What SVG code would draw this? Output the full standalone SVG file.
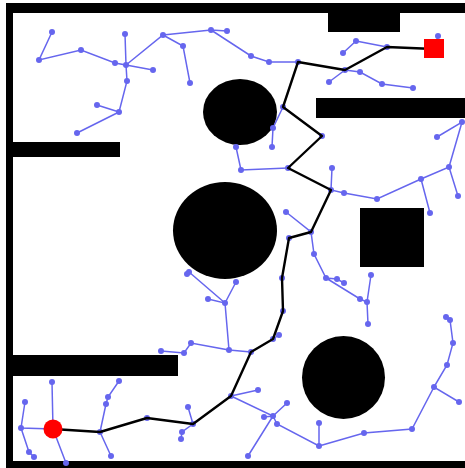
<svg xmlns="http://www.w3.org/2000/svg" width="465" height="468" viewBox="0 0 465 468">
<style>
.obs{fill:#000}
.e{stroke:#6666ee;stroke-width:1.5;fill:none;stroke-linecap:round}
.n{fill:#6666ee}
.path{stroke:#000;stroke-width:2.4;fill:none;stroke-linejoin:round}
</style>
<rect width="465" height="468" fill="#fff"/>
<g id="walls">
<rect class="obs" x="6" y="3" width="459" height="10"/>
<rect class="obs" x="6" y="3" width="7" height="465"/>
<rect class="obs" x="6" y="461" width="459" height="7"/>
</g>
<g id="obstacles">
<rect class="obs" x="328" y="13" width="72" height="19"/>
<rect class="obs" x="316" y="98" width="149" height="20"/>
<rect class="obs" x="13" y="142" width="107" height="15"/>
<rect class="obs" x="13" y="355" width="165" height="21"/>
<rect class="obs" x="360" y="208" width="64" height="59"/>
<ellipse class="obs" cx="240" cy="112" rx="37" ry="33"/>
<ellipse class="obs" cx="225" cy="230.5" rx="52" ry="48.5"/>
<ellipse class="obs" cx="343.5" cy="377.5" rx="41.5" ry="41.5"/>
</g>
<g id="connectors">
<path class="e" d="M52,32L39,60L81,50L115,63L126,65L125,34M126,65L153,70M126,65L127,81L119,112L97,105M119,112L77,133M126,65L163,35L183,46L190,83M163,35L211,30L227,31M211,30L251,56L269,62L298,62M283,107L273,128L272,147M236,147L241,170L288,168M356,41L343,53M356,41L387,47M345,70L360,72L382,84L413,88M345,70L329,82M438,36L434,49M437,137L462,122L449,167M332,168L331,190L344,193L377,199L421,179L449,167L458,196M421,179L430,213M286,212L311,232L314,254L326,278L337,279L344,283M326,278L360,299L367,302L368,324M371,275L367,302M189,272L225,303M187,274L189,272M236,282L225,303M208,299L225,303L229,350L191,343L184,353L161,351M229,350L251,352M279,335L273,339M231,396L258,390M231,396L273,416L264,417M273,416L287,403M273,416L248,456M273,416L277,424L319,446L319,423M319,446L364,433L412,429L434,387L459,402M434,387L447,365L453,343L450,320L446,317M193,424L188,407M193,424L182,432L181,439M53,429L52,382M53,429L21,428L25,402M21,428L29,452L34,457M53,429L66,463M100,432L111,456M100,432L106,404L108,397L119,381"/>
</g>
<g id="nodes">
<circle class="n" cx="52" cy="32" r="3"/><circle class="n" cx="39" cy="60" r="3"/><circle class="n" cx="81" cy="50" r="3"/><circle class="n" cx="115" cy="63" r="3"/><circle class="n" cx="126" cy="65" r="3"/><circle class="n" cx="125" cy="34" r="3"/><circle class="n" cx="153" cy="70" r="3"/><circle class="n" cx="127" cy="81" r="3"/><circle class="n" cx="119" cy="112" r="3"/><circle class="n" cx="97" cy="105" r="3"/><circle class="n" cx="77" cy="133" r="3"/><circle class="n" cx="163" cy="35" r="3"/><circle class="n" cx="183" cy="46" r="3"/><circle class="n" cx="190" cy="83" r="3"/><circle class="n" cx="211" cy="30" r="3"/><circle class="n" cx="227" cy="31" r="3"/><circle class="n" cx="251" cy="56" r="3"/><circle class="n" cx="269" cy="62" r="3"/><circle class="n" cx="298" cy="62" r="3"/><circle class="n" cx="283" cy="107" r="3"/><circle class="n" cx="273" cy="128" r="3"/><circle class="n" cx="272" cy="147" r="3"/><circle class="n" cx="236" cy="147" r="3"/><circle class="n" cx="241" cy="170" r="3"/><circle class="n" cx="288" cy="168" r="3"/><circle class="n" cx="356" cy="41" r="3"/><circle class="n" cx="343" cy="53" r="3"/><circle class="n" cx="387" cy="47" r="3"/><circle class="n" cx="345" cy="70" r="3"/><circle class="n" cx="360" cy="72" r="3"/><circle class="n" cx="329" cy="82" r="3"/><circle class="n" cx="382" cy="84" r="3"/><circle class="n" cx="413" cy="88" r="3"/><circle class="n" cx="438" cy="36" r="3"/><circle class="n" cx="322" cy="136" r="3"/><circle class="n" cx="437" cy="137" r="3"/><circle class="n" cx="462" cy="122" r="3"/><circle class="n" cx="332" cy="168" r="3"/><circle class="n" cx="331" cy="190" r="3"/><circle class="n" cx="344" cy="193" r="3"/><circle class="n" cx="377" cy="199" r="3"/><circle class="n" cx="421" cy="179" r="3"/><circle class="n" cx="430" cy="213" r="3"/><circle class="n" cx="449" cy="167" r="3"/><circle class="n" cx="458" cy="196" r="3"/><circle class="n" cx="286" cy="212" r="3"/><circle class="n" cx="311" cy="232" r="3"/><circle class="n" cx="289" cy="238" r="3"/><circle class="n" cx="314" cy="254" r="3"/><circle class="n" cx="282" cy="278" r="3"/><circle class="n" cx="326" cy="278" r="3"/><circle class="n" cx="337" cy="279" r="3"/><circle class="n" cx="344" cy="283" r="3"/><circle class="n" cx="371" cy="275" r="3"/><circle class="n" cx="360" cy="299" r="3"/><circle class="n" cx="367" cy="302" r="3"/><circle class="n" cx="368" cy="324" r="3"/><circle class="n" cx="189" cy="272" r="3"/><circle class="n" cx="187" cy="274" r="3"/><circle class="n" cx="236" cy="282" r="3"/><circle class="n" cx="208" cy="299" r="3"/><circle class="n" cx="225" cy="303" r="3"/><circle class="n" cx="283" cy="311" r="3"/><circle class="n" cx="229" cy="350" r="3"/><circle class="n" cx="191" cy="343" r="3"/><circle class="n" cx="184" cy="353" r="3"/><circle class="n" cx="161" cy="351" r="3"/><circle class="n" cx="251" cy="352" r="3"/><circle class="n" cx="273" cy="339" r="3"/><circle class="n" cx="279" cy="335" r="3"/><circle class="n" cx="258" cy="390" r="3"/><circle class="n" cx="231" cy="396" r="3"/><circle class="n" cx="273" cy="416" r="3"/><circle class="n" cx="264" cy="417" r="3"/><circle class="n" cx="287" cy="403" r="3"/><circle class="n" cx="277" cy="424" r="3"/><circle class="n" cx="248" cy="456" r="3"/><circle class="n" cx="319" cy="446" r="3"/><circle class="n" cx="319" cy="423" r="3"/><circle class="n" cx="364" cy="433" r="3"/><circle class="n" cx="412" cy="429" r="3"/><circle class="n" cx="434" cy="387" r="3"/><circle class="n" cx="459" cy="402" r="3"/><circle class="n" cx="447" cy="365" r="3"/><circle class="n" cx="453" cy="343" r="3"/><circle class="n" cx="450" cy="320" r="3"/><circle class="n" cx="446" cy="317" r="3"/><circle class="n" cx="193" cy="424" r="3"/><circle class="n" cx="188" cy="407" r="3"/><circle class="n" cx="182" cy="432" r="3"/><circle class="n" cx="181" cy="439" r="3"/><circle class="n" cx="147" cy="418" r="3"/><circle class="n" cx="100" cy="432" r="3"/><circle class="n" cx="111" cy="456" r="3"/><circle class="n" cx="106" cy="404" r="3"/><circle class="n" cx="108" cy="397" r="3"/><circle class="n" cx="119" cy="381" r="3"/><circle class="n" cx="52" cy="382" r="3"/><circle class="n" cx="21" cy="428" r="3"/><circle class="n" cx="25" cy="402" r="3"/><circle class="n" cx="29" cy="452" r="3"/><circle class="n" cx="34" cy="457" r="3"/><circle class="n" cx="66" cy="463" r="3"/>
</g>
<g id="solution">
<polyline class="path" points="53,429 100,432 147,418 193,424 231,396 251,352 273,339 283,311 282,278 289,238 311,232 331,190 288,168 322,136 283,107 298,62 345,70 387,47 434,49"/>
</g>
<g id="start"><circle cx="53" cy="429" r="9.5" fill="#ff0000"/></g>
<g id="goal"><rect x="424" y="39" width="20" height="19" fill="#ff0000"/></g>
</svg>
